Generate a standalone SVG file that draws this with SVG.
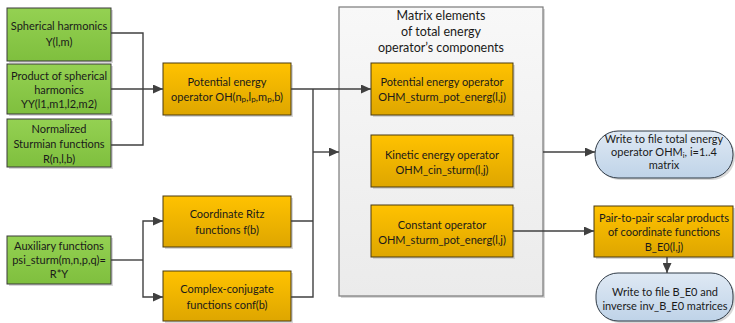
<svg xmlns="http://www.w3.org/2000/svg" width="735" height="323" viewBox="0 0 735 323">
<defs>
<linearGradient id="gG" x1="0" y1="0" x2="0" y2="1"><stop offset="0" stop-color="#94d152"/><stop offset="1" stop-color="#7fbf3e"/></linearGradient>
<linearGradient id="gO" x1="0" y1="0" x2="0" y2="1"><stop offset="0" stop-color="#ffc200"/><stop offset="1" stop-color="#dea600"/></linearGradient>
<linearGradient id="gB" x1="0" y1="0" x2="0" y2="1"><stop offset="0" stop-color="#dfe9f4"/><stop offset="1" stop-color="#bfd3e8"/></linearGradient>
<linearGradient id="gC" x1="0" y1="0" x2="0" y2="1"><stop offset="0" stop-color="#f8f8f8"/><stop offset="1" stop-color="#ebebeb"/></linearGradient>
<marker id="ar" markerUnits="userSpaceOnUse" markerWidth="10" markerHeight="9" refX="10" refY="4.5" orient="auto"><path d="M0,0 L10,4.5 L0,9 z" fill="#404040"/></marker>
</defs>
<style>
.sh{fill:#c8c8c8;opacity:0.7}
.g{fill:url(#gG);stroke:#3a3a3a;stroke-width:1}
.o{fill:url(#gO);stroke:#4a3a10;stroke-width:1}
.b{fill:url(#gB);stroke:#2f3a46;stroke-width:1}
.c{fill:url(#gC);stroke:#7a7a7a;stroke-width:1.2}
text{font-family:Lato,"Liberation Sans",sans-serif;font-size:11px;fill:#1a1a1a;text-anchor:middle}
.t{font-size:12.5px}
.w{stroke:#404040;stroke-width:1.4;fill:none}
.wa{stroke:#404040;stroke-width:1.4;fill:none;marker-end:url(#ar)}
</style>
<g id="container">
<rect class="sh" x="341" y="9" width="204" height="289"/>
<rect class="c" x="339" y="7" width="204" height="289"/>
<text class="t" x="441" y="20">Matrix elements</text>
<text class="t" x="441" y="36">of total energy</text>
<text class="t" x="441" y="52">operator’s components</text>
</g>
<g id="n1"><rect class="sh" x="9" y="10" width="104" height="53"/><rect class="g" x="7" y="8" width="104" height="53"/>
<text x="59" y="30">Spherical harmonics</text><text x="59" y="46">Y(l,m)</text></g>
<g id="n2"><rect class="sh" x="9" y="66" width="104" height="50"/><rect class="g" x="7" y="64" width="104" height="50"/>
<text x="59" y="80">Product of spherical</text><text x="59" y="94">harmonics</text><text x="59" y="108">YY(l1,m1,l2,m2)</text></g>
<g id="n3"><rect class="sh" x="9" y="121" width="104" height="48"/><rect class="g" x="7" y="119" width="104" height="48"/>
<text x="59" y="133">Normalized</text><text x="59" y="148">Sturmian functions</text><text x="59" y="163">R(n,l,b)</text></g>
<g id="n4"><rect class="sh" x="9" y="238" width="104" height="48"/><rect class="g" x="7" y="236" width="104" height="48"/>
<text x="59" y="250">Auxiliary functions</text><text x="59" y="264">psi_sturm(m,n,p,q)=</text><text x="59" y="278">R*Y</text></g>
<g id="n5"><rect class="sh" x="165" y="65" width="128" height="52"/><rect class="o" x="163" y="63" width="128" height="52"/>
<text x="227" y="86">Potential energy</text><text x="227" y="101">operator OH(n<tspan font-size="8" dy="1">p</tspan><tspan dy="-1">,l</tspan><tspan font-size="8" dy="1">p</tspan><tspan dy="-1">,m</tspan><tspan font-size="8" dy="1">p</tspan><tspan dy="-1">,b)</tspan></text></g>
<g id="n6"><rect class="sh" x="165" y="198" width="128" height="51"/><rect class="o" x="163" y="196" width="128" height="51"/>
<text x="227" y="218">Coordinate Ritz</text><text x="227" y="234">functions f(b)</text></g>
<g id="n7"><rect class="sh" x="165" y="273" width="128" height="50"/><rect class="o" x="163" y="271" width="128" height="50"/>
<text x="227" y="293">Complex-conjugate</text><text x="227" y="309">functions conf(b)</text></g>
<g id="n8"><rect class="sh" x="373" y="65" width="142" height="52"/><rect class="o" x="371" y="63" width="142" height="52"/>
<text x="442" y="86">Potential energy operator</text><text x="442" y="101">OHM_sturm_pot_energ(l,j)</text></g>
<g id="n9"><rect class="sh" x="373" y="137" width="142" height="52"/><rect class="o" x="371" y="135" width="142" height="52"/>
<text x="442" y="159">Kinetic energy operator</text><text x="442" y="174">OHM_cin_sturm(l,j)</text></g>
<g id="n10"><rect class="sh" x="373" y="207" width="142" height="52"/><rect class="o" x="371" y="205" width="142" height="52"/>
<text x="442" y="229">Constant operator</text><text x="442" y="244">OHM_sturm_pot_energ(l,j)</text></g>
<g id="n11"><rect class="sh" x="597" y="133" width="138" height="47" rx="23"/><rect class="b" x="595" y="131" width="138" height="47" rx="23"/>
<text x="664" y="143">Write to file total energy</text><text x="664" y="156">operator OHM<tspan font-size="7.5" dy="2">i</tspan><tspan dy="-2">, i=1..4</tspan></text><text x="664" y="169">matrix</text></g>
<g id="n12"><rect class="sh" x="596" y="208" width="139" height="51"/><rect class="o" x="594" y="206" width="139" height="51"/>
<text x="664" y="222">Pair-to-pair scalar products</text><text x="664" y="236">of coordinate functions</text><text x="664" y="251">B_E0(l,j)</text></g>
<g id="n13"><rect class="sh" x="598" y="275" width="137" height="48" rx="22"/><rect class="b" x="596" y="273" width="137" height="48" rx="22"/>
<text x="665" y="296">Write to file B_E0 and</text><text x="665" y="310">inverse inv_B_E0 matrices</text></g>
<g id="connectors">
<path class="w" d="M111,33 H143 V145 H111"/>
<path class="wa" d="M111,89 H163"/>
<path class="wa" d="M291,89 H371"/>
<path class="w" d="M313,89 V297 H291 M291,221 H313"/>
<path class="wa" d="M313,152 H339"/>
<path class="w" d="M111,260 H143"/>
<path class="wa" d="M143,260 V221 H163"/>
<path class="wa" d="M143,260 V297 H163"/>
<path class="wa" d="M543,152 H595"/>
<path class="wa" d="M513,231 H594"/>
<path class="wa" d="M667,257 V273"/>
</g>
</svg>
